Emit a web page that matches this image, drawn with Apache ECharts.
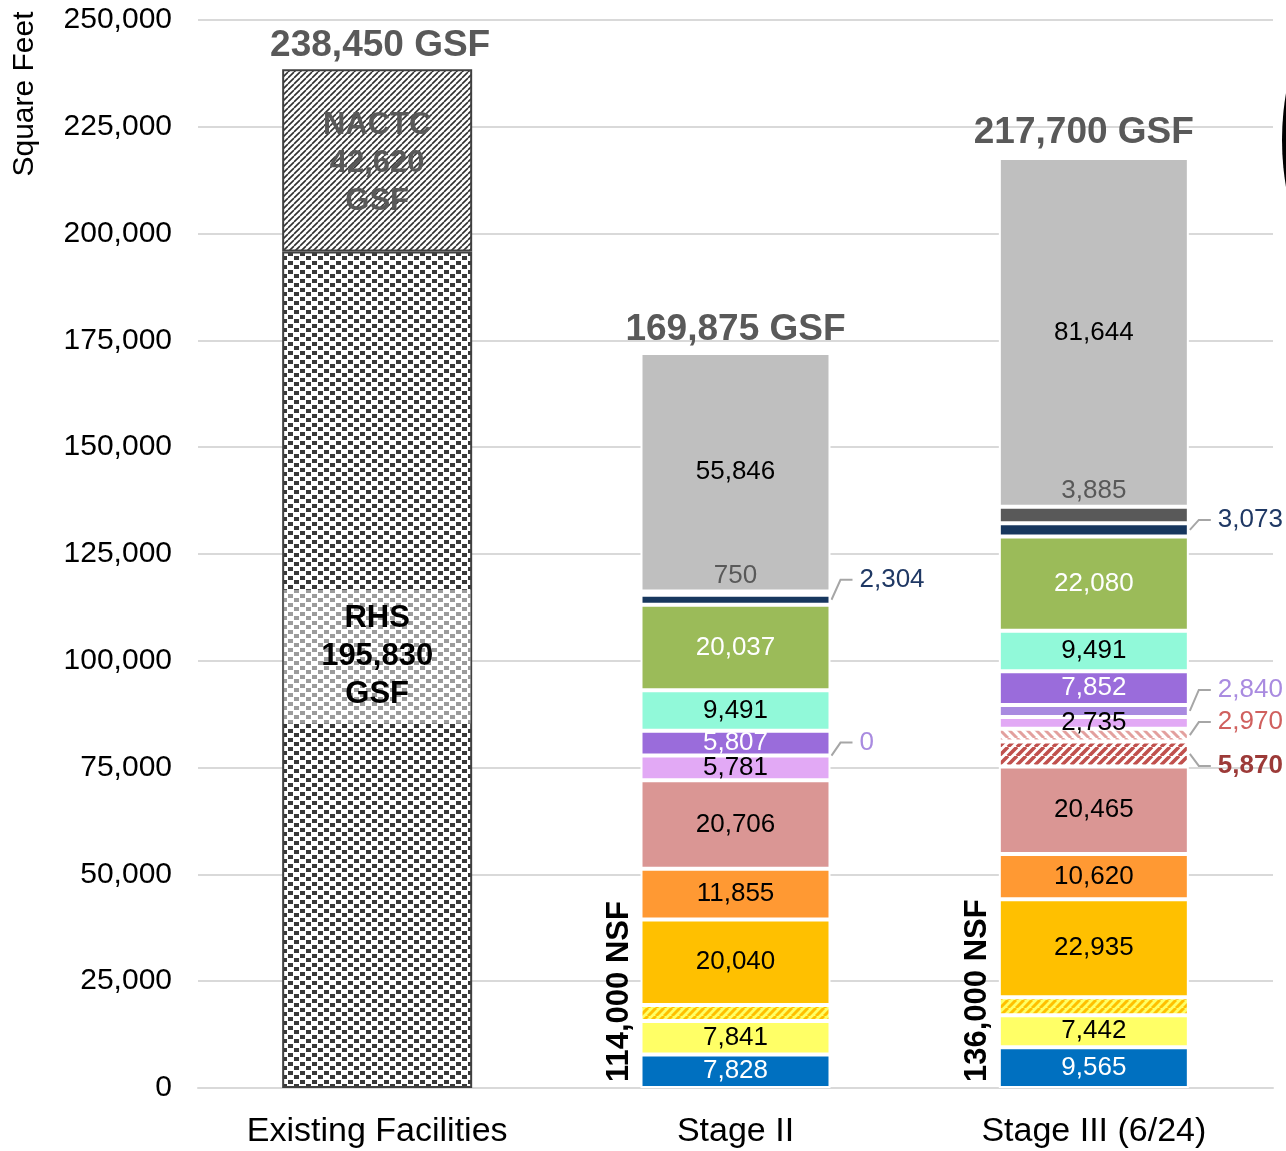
<!DOCTYPE html>
<html>
<head>
<meta charset="utf-8">
<script src="https://cdn.jsdelivr.net/npm/echarts@6/dist/echarts.min.js"></script>
<style>
html,body{margin:0;padding:0;background:#fff;}
#main{width:1286px;height:1151px;}
</style>
</head>
<body>
<div id="main"></div>
<script>
// ---------------- DATA ----------------
const categories = ['Existing Facilities', 'Stage II', 'Stage III (6/24)'];
const rhs           = [195830, '-', '-'];
const nactc         = [42620, '-', '-'];
const blue          = ['-', 7828, 9565];
const yellow        = ['-', 7841, 7442];
const yellowHatch   = ['-', 3760, 4233];
const gold          = ['-', 20040, 22935];
const orange        = ['-', 11855, 10620];
const pink          = ['-', 20706, 20465];
const redHatch      = ['-', '-', 5870];
const lightRedHatch = ['-', '-', 2970];
const lilac         = ['-', 5781, 2735];
const purpleLight   = ['-', 0, 2840];
const purple        = ['-', 5807, 7852];
const mint          = ['-', 9491, 9491];
const green         = ['-', 20037, 22080];
const navy          = ['-', 2304, 3073];
const darkGray      = ['-', 750, 3885];
const lightGray     = ['-', 55846, 81644];
const gsfTotals     = [238450, 169875, 217700];
const nsfTotals     = [null, 114000, 136000];
const yMin = 0, yMax = 250000, yStep = 25000;

// ---------------- helpers ----------------
const fmt = v => Number(v).toLocaleString('en-US');

function stripes(bg, fg, size, lw, dir) {
  const c = document.createElement('canvas');
  c.width = size; c.height = size;
  const g = c.getContext('2d');
  g.fillStyle = bg; g.fillRect(0, 0, size, size);
  g.strokeStyle = fg; g.lineWidth = lw;
  g.beginPath();
  for (const k of [-1, 0, 1]) {
    if (dir > 0) { g.moveTo(k * size, size); g.lineTo(k * size + size, 0); }
    else { g.moveTo(k * size, 0); g.lineTo(k * size + size, size); }
  }
  g.stroke();
  return { image: c, repeat: 'repeat' };
}
function checker() {
  const w = 12, h = 9;
  const c = document.createElement('canvas');
  c.width = w; c.height = h;
  const g = c.getContext('2d');
  g.fillStyle = '#ffffff'; g.fillRect(0, 0, w, h);
  g.fillStyle = '#383838';
  g.fillRect(0, 0, 5, 4);
  g.fillRect(6, 4, 5, 4);
  return { image: c, repeat: 'repeat' };
}

const P = {
  rhs: checker(),
  nactc: stripes('#ffffff', '#303030', 6, 1.6, 1),
  yellowHatch: stripes('#FFFF66', '#FFC000', 8, 3, 1),
  redHatch: stripes('#ffffff', '#C0504D', 9, 3.6, 1),
  lightRedHatch: stripes('#ffffff', '#E3A09E', 9, 3, -1)
};

const font = 'Liberation Sans, Arial, sans-serif';
const stageBorder = { borderColor: '#ffffff', borderWidth: 2 };
const baseLabel = { show: true, position: 'inside', fontSize: 26, fontFamily: font,
  formatter: p => fmt(p.value) };

const defs = [
  { name: 'RHS', data: rhs, color: P.rhs, border: { borderColor: '#404040', borderWidth: 2 },
    label: { show: true, position: 'inside', offset: [0, -13], fontSize: 31, fontWeight: 'bold', color: '#000',
      lineHeight: 38, width: 187, padding: [10, 0], align: 'center', backgroundColor: 'rgba(255,255,255,0.5)',
      fontFamily: font,
      formatter: p => 'RHS\n' + fmt(p.value) + '\nGSF' } },
  { name: 'NACTC', data: nactc, color: P.nactc, border: { borderColor: '#404040', borderWidth: 2 },
    label: { show: true, position: 'inside', offset: [0, 3], fontSize: 31, fontWeight: 'bold', color: '#595959',
      lineHeight: 38, fontFamily: font,
      formatter: p => 'NACTC\n' + fmt(p.value) + '\nGSF' } },
  { name: 'blue', data: blue, color: '#0070C0', label: { color: '#ffffff' } },
  { name: 'yellow', data: yellow, color: '#FFFF66', label: { color: '#000' } },
  { name: 'yellowHatch', data: yellowHatch, color: P.yellowHatch, label: { show: false } },
  { name: 'gold', data: gold, color: '#FFC000', label: { color: '#000' } },
  { name: 'orange', data: orange, color: '#FF9933', label: { color: '#000' } },
  { name: 'pink', data: pink, color: '#DA9694', label: { color: '#000' } },
  { name: 'redHatch', data: redHatch, color: P.redHatch, label: { show: false } },
  { name: 'lightRedHatch', data: lightRedHatch, color: P.lightRedHatch, label: { show: false } },
  { name: 'lilac', data: lilac, color: '#E2A9F5', label: { color: '#000' } },
  { name: 'purpleLight', data: purpleLight, color: '#A98BE0', label: { show: false } },
  { name: 'purple', data: purple, color: '#9A6CDB', label: { color: '#ffffff' } },
  { name: 'mint', data: mint, color: '#91F9D9', label: { color: '#000' } },
  { name: 'green', data: green, color: '#9BBB59', label: { color: '#ffffff' } },
  { name: 'navy', data: navy, color: '#17375E', label: { show: false } },
  { name: 'darkGray', data: darkGray, color: '#595959', itemColors: [null, '#A6A6A6', null],
    label: { position: 'top', distance: 3, color: '#595959' } },
  { name: 'lightGray', data: lightGray, color: '#BFBFBF', label: { color: '#000' } }
];

const series = defs.map(d => ({
  name: d.name,
  type: 'bar',
  stack: 'total',
  barWidth: 190,
  silent: true,
  animation: false,
  itemStyle: Object.assign({ color: d.color }, d.border || stageBorder),
  label: d.name === 'RHS' || d.name === 'NACTC' ? d.label : Object.assign({}, baseLabel, d.label),
  data: d.data.map((v, i) => (d.itemColors && d.itemColors[i]) ? { value: v, itemStyle: { color: d.itemColors[i] } } : v)
}));

const chart = echarts.init(document.getElementById('main'), null, { renderer: 'canvas' });
chart.setOption({
  backgroundColor: '#ffffff',
  animation: false,
  grid: { left: 198, right: 13, top: 20, bottom: 63, containLabel: false },
  xAxis: {
    type: 'category', data: categories,
    axisLine: { show: true, lineStyle: { color: '#D9D9D9', width: 2 } },
    axisTick: { show: false },
    axisLabel: { fontSize: 34, color: '#000', margin: 27, fontFamily: font }
  },
  yAxis: {
    type: 'value', min: yMin, max: yMax, interval: yStep,
    axisLine: { show: false }, axisTick: { show: false },
    splitLine: { lineStyle: { color: '#D9D9D9', width: 2 } },
    axisLabel: { fontSize: 30, color: '#000', margin: 26, fontFamily: font,
      formatter: v => fmt(v) }
  },
  series: series
});

// ---------------- annotations ----------------
const px = (cat, val) => chart.convertToPixel({ gridIndex: 0 }, [cat, val]);
function segMid(name, cat) {
  let base = 0;
  for (const d of defs) {
    const v = d.data[cat];
    if (d.name === name) return base + (v === '-' ? 0 : v) / 2;
    if (v !== '-') base += v;
  }
  return base;
}
function stackTop(cat) {
  let s = 0;
  for (const d of defs) { const v = d.data[cat]; if (v !== '-') s += v; }
  return s;
}

const graphics = [];

// GSF totals above bars
const gsfGap = [5, 5, 7];
const gsfDx = [3, 0, -10];
gsfTotals.forEach((t, i) => {
  const p = px(i, stackTop(i));
  graphics.push({ type: 'text', x: p[0] + gsfDx[i], y: p[1] - gsfGap[i], silent: true,
    style: { text: fmt(t) + ' GSF', font: 'bold 37px ' + font, fill: '#595959', textAlign: 'center', textVerticalAlign: 'bottom' } });
});

// NSF vertical labels
nsfTotals.forEach((t, i) => {
  if (t == null) return;
  const p = px(i, 0);
  graphics.push({ type: 'text', x: p[0] - 116, y: p[1] - 6, rotation: Math.PI / 2, silent: true,
    style: { text: fmt(t) + ' NSF', font: 'bold 31px ' + font, fill: '#000', textAlign: 'left', textVerticalAlign: 'middle' } });
});

// Callouts with leader lines
const callouts = [
  { name: 'navy', cat: 1, dy: -20, color: '#1F3864', bold: false },
  { name: 'purpleLight', cat: 1, dy: -13, color: '#A98BE0', bold: false },
  { name: 'navy', cat: 2, dy: -10, color: '#1F3864', bold: false },
  { name: 'purpleLight', cat: 2, dy: -21, color: '#A98BE0', bold: false },
  { name: 'lightRedHatch', cat: 2, dy: -13, color: '#D0605E', bold: false },
  { name: 'redHatch', cat: 2, dy: 12, color: '#9C3A38', bold: true }
];
callouts.forEach(c => {
  const d = defs.find(x => x.name === c.name);
  const v = d.data[c.cat];
  const p = px(c.cat, segMid(c.name, c.cat));
  const xR = p[0] + 95;
  const y = p[1];
  graphics.push({ type: 'polyline', silent: true,
    shape: { points: [[xR + 1, y], [xR + 10, y + c.dy], [xR + 22, y + c.dy]] },
    style: { stroke: '#A6A6A6', lineWidth: 2, fill: null } });
  graphics.push({ type: 'text', x: xR + 29, y: y + c.dy, silent: true,
    style: { text: fmt(v), font: (c.bold ? 'bold ' : '') + '26px ' + font, fill: c.color, textAlign: 'left', textVerticalAlign: 'middle' } });
});

// Y axis title
graphics.push({ type: 'text', x: 25, y: 94, rotation: Math.PI / 2, silent: true,
  style: { text: 'Square Feet', font: '30px ' + font, fill: '#000', textAlign: 'center', textVerticalAlign: 'middle' } });

// decorative edge of black shape at the right border
graphics.push({ type: 'circle', silent: true, shape: { cx: 1560, cy: 140, r: 278 }, style: { fill: '#000' } });

chart.setOption({ graphic: graphics });
</script>
</body>
</html>
